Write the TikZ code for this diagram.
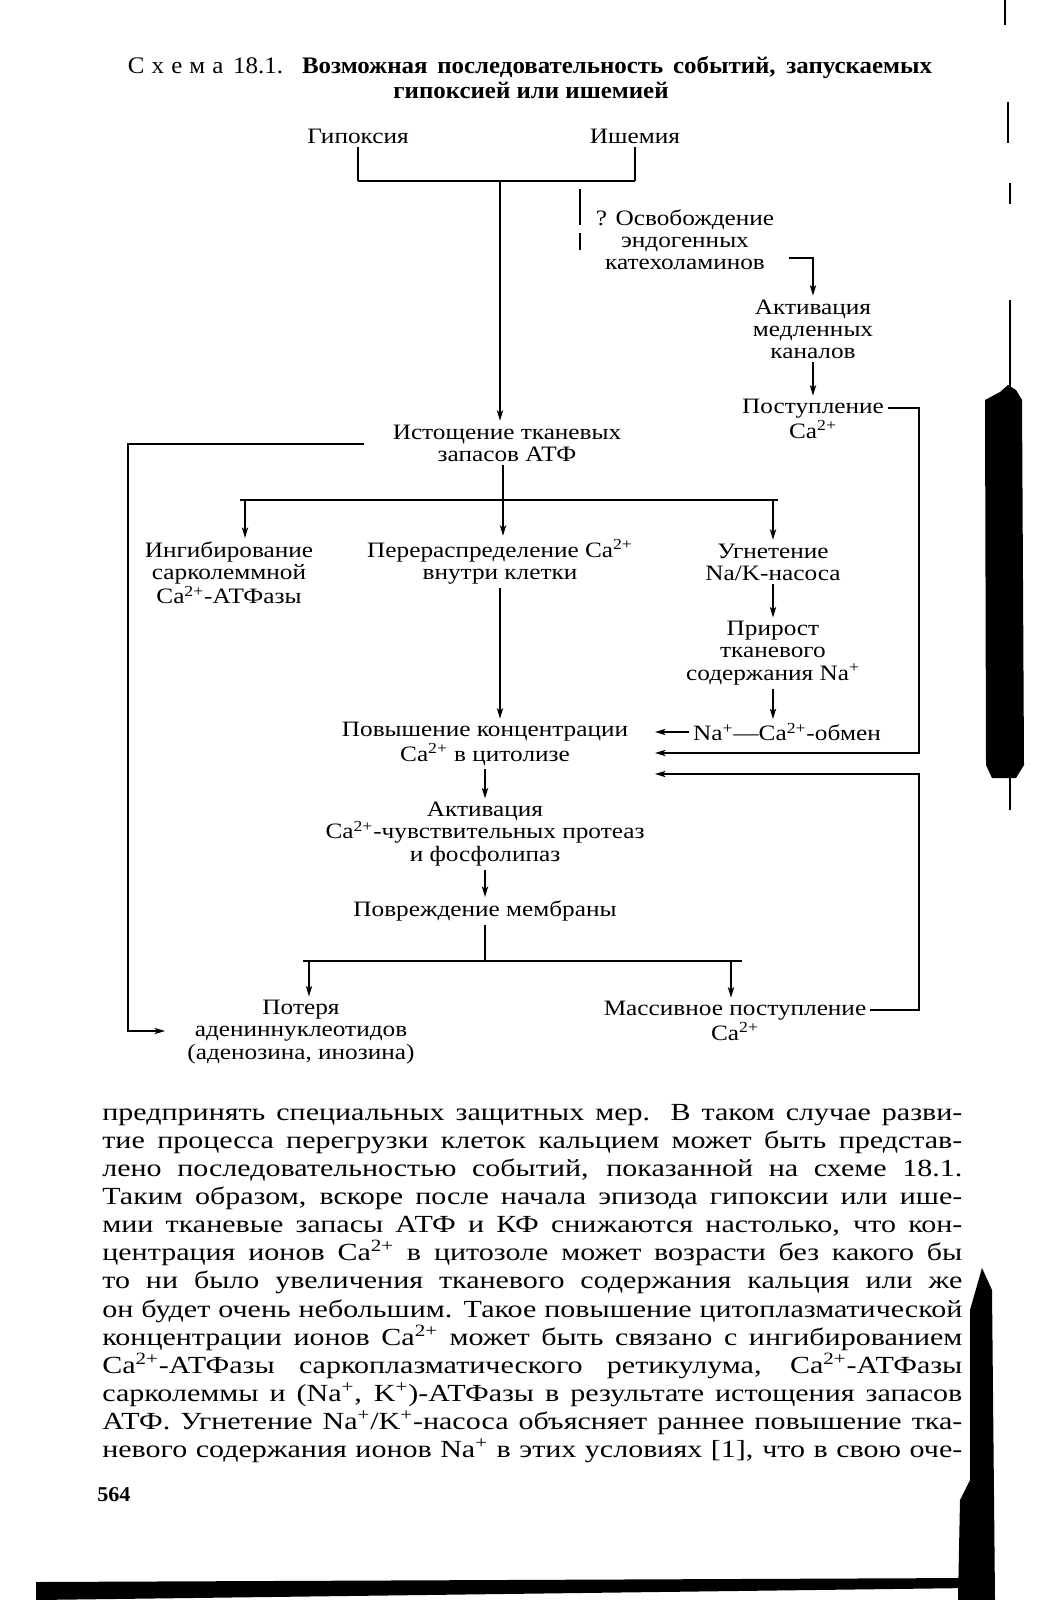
\documentclass[tikz,border=0pt]{standalone}
\usepackage{fontspec}
\setmainfont{Liberation Serif}[FakeStretch=1.15]
\newfontfamily\headfont{Liberation Serif}[FakeStretch=1.05]
\newfontfamily\bodyface{Liberation Serif}[FakeStretch=1.22]
\usetikzlibrary{arrows.meta,positioning}
\newcommand{\diagfont}{\fontsize{12.5}{12.6}\selectfont}
\newcommand{\bodyfont}{\bodyface\fontsize{14}{16}\selectfont}
\newcommand{\Caion}{Ca\textsuperscript{2+}}
\newcommand{\Naion}{Na\textsuperscript{+}}
\tikzset{
  txt/.style={align=center,inner sep=2pt,font=\diagfont},
  conn/.style={line width=.8pt},
  bar/.style={line width=1.2pt},
  scan/.style={fill=black,draw=none}
}

\begin{document}
\begin{tikzpicture}[x=.2mm,y=-.2mm,>={Stealth[length=6pt,width=3.6pt,inset=1.5pt]}]
\useasboundingbox (0,0) rectangle (1040,1600);
% title
\node (ttl1) at (530,68) {\headfont\fontsize{13.5}{15}\selectfont\makebox[160.8mm][s]{С\kern.3em х\kern.3em е\kern.3em м\kern.3em а 18.1. \textbf{Возможная последовательность событий, запускаемых}}};
\node (ttl2) at (531,90) {\headfont\fontsize{13.5}{15}\selectfont\bfseries гипоксией или ишемией};

% boxes of the scheme
\node[txt] (hyp) at (358,136) {Гипоксия};
\node[txt] (isch) at (635,136) {Ишемия};
\node[txt] (rel) at (685,240) {? Освобождение\\эндогенных\\катехоламинов};
\node[txt] (act) at (813,329) {Активация\\медленных\\каналов};
\node[txt] (infl) at (813,419) {Поступление\\\Caion};
\node[txt] (ist) at (507,443) {Истощение тканевых\\запасов АТФ};
\node[txt] (inh) at (229,573) {Ингибирование\\сарколеммной\\\Caion-АТФазы};
\node[txt] (redis) at (500,562) {Перераспределение \Caion\\внутри клетки};
\node[txt] (supp) at (773,562) {Угнетение\\Na/K-насоса};
\node[txt] (gain) at (773,653) {Прирост\\тканевого\\содержания \Naion};
\node[txt] (exch) at (787,732) {\Naion---\Caion-обмен};
\node[txt] (incr) at (485,744) {Повышение концентрации\\\Caion{} в цитолизе};
\node[txt] (actp) at (485,834) {Активация\\\Caion-чувствительных протеаз\\и фосфолипаз};
\node[txt] (dam) at (485,911) {Повреждение мембраны};
\node[txt] (loss) at (301,1032) {Потеря\\адениннуклеотидов\\(аденозина, инозина)};
\node[txt] (mass) at (735,1021) {Массивное поступление\\\Caion};

% joints
\coordinate (j0) at (500,181);
\coordinate (q0) at (580,189);
\coordinate (h0) at (789,258);
\coordinate (r1) at (919,408);
\coordinate (r2) at (919,1010);
\coordinate (a1) at (655,753);
\coordinate (a2) at (655,774);
\coordinate (l0) at (128,444);
\coordinate (l1) at (165,1031);
\coordinate (j1) at (503,500);
\coordinate (b1) at (245,500);
\coordinate (b3) at (773,500);
\coordinate (j2) at (485,961);
\coordinate (c1) at (309,961);
\coordinate (c2) at (731,961);

% connectors
\draw[conn] (hyp) -- (hyp |- j0);
\draw[conn] (isch) -- (isch |- j0);
\draw[bar] (hyp |- j0) -- (isch |- j0);
\draw[conn,->] (j0) -- (j0 |- ist.north);
\draw[conn] (q0) -- ++(0,36) ++(0,8) -- ++(0,17);
\draw[conn,->] (h0) -| (act);
\draw[conn,->] (act) -- (infl);
\draw[conn,->] (infl.east |- r1) -- (r1) |- (a1);
\draw[conn,->] (mass.east |- r2) -- (r2) |- (a2);
\draw[conn,->] (exch.west) -- (exch.west -| a1);
\draw[conn,->,shorten <=5mm] (ist.west |- l0) -- (l0) |- (l1);
\draw[conn] (j1 |- ist.south) -- (j1);
\draw[bar] ([xshift=-1mm]b1) -- ([xshift=1mm]b3);
\draw[conn,->] (b1) -- (b1 |- inh.north);
\draw[conn,->] (j1) -- (j1 |- redis.north);
\draw[conn,->] (b3) -- (b3 |- supp.north);
\draw[conn,->] (supp) -- (gain);
\draw[conn,->] (gain) -- (gain |- exch.north);
\draw[conn,->] (redis) -- (redis |- incr.north);
\draw[conn,->] (incr) -- (actp);
\draw[conn,->] (actp) -- (dam);
\draw[conn] (dam) -- (j2);
\draw[bar] ([xshift=-1.2mm]c1) -- ([xshift=2.2mm]c2);
\draw[conn,->] (c1) -- (c1 |- loss.north);
\draw[conn,->] (c2) -- (c2 |- mass.north);

% running text of the page
\foreach \i/\row in {
0/{предпринять специальных защитных мер. В таком случае разви-},
1/{тие процесса перегрузки клеток кальцием может быть представ-},
2/{лено последовательностью событий, показанной на схеме 18.1.},
3/{Таким образом, вскоре после начала эпизода гипоксии или ише-},
4/{мии тканевые запасы АТФ и КФ снижаются настолько, что кон-},
5/{центрация ионов \Caion{} в цитозоле может возрасти без какого бы},
6/{то ни было увеличения тканевого содержания кальция или же},
7/{он будет очень небольшим. Такое повышение цитоплазматической},
8/{концентрации ионов \Caion{} может быть связано с ингибированием},
9/{\Caion-АТФазы саркоплазматического ретикулума, \Caion-АТФазы},
10/{сарколеммы и (\Naion, K\textsuperscript{+})-АТФазы в результате истощения запасов},
11/{АТФ. Угнетение \Naion/K\textsuperscript{+}-насоса объясняет раннее повышение тка-},
12/{невого содержания ионов \Naion{} в этих условиях [1], что в свою оче-}}
  \node[anchor=mid west,inner sep=0pt] (row\i) at (102,{1116+28.15*\i}) {\bodyfont\makebox[172mm][s]{\row}};
\node[anchor=mid west,inner sep=0pt] (pg) at (97,1497) {\headfont\fontsize{12}{14}\selectfont\bfseries 564};

% scan marks
\fill[scan] (985,400) -- (1000,392) -- (1008,385) -- (1016,390) -- (1022,400) -- (1024,765) -- (1016,778) -- (992,778) -- (986,765) -- cycle;
\draw[line width=1.2pt] (1010,300) -- (1010,390) (1010,775) -- (1010,810);
\draw[line width=1pt] (1005,0) -- (1005,25) (1008,102) -- (1008,143) (1010,183) -- (1010,204);
\fill[scan] (982,1268) -- (992,1290) -- (995,1600) -- (958,1600) -- (960,1500) -- (970,1480) -- (970,1310) -- cycle;
\fill[scan] (36,1582) -- (970,1578) -- (970,1588) -- (36,1600) -- cycle;
\end{tikzpicture}
\end{document}
